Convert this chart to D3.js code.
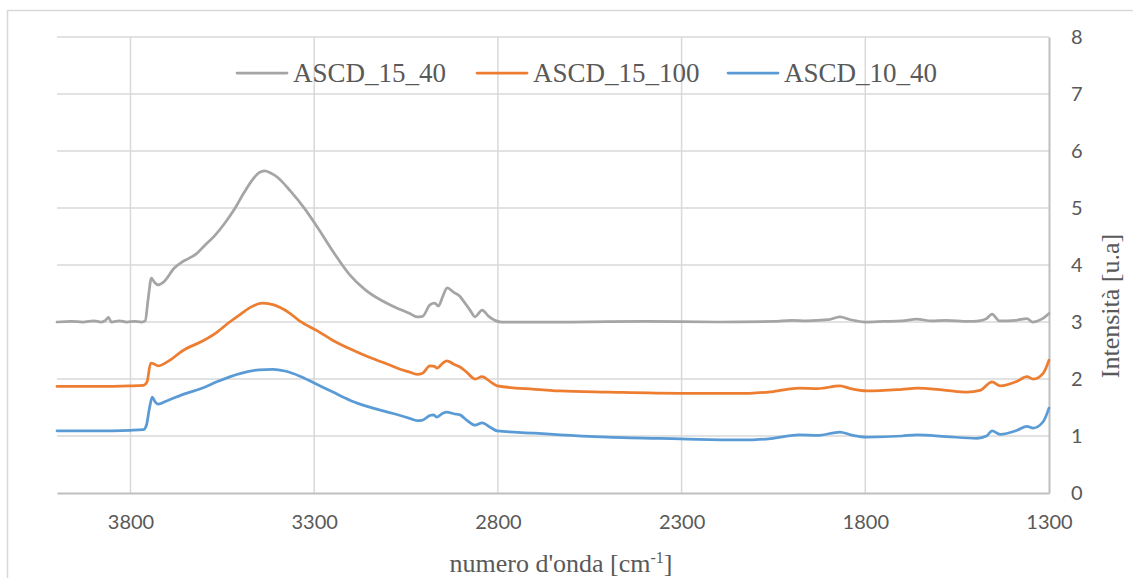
<!DOCTYPE html>
<html>
<head>
<meta charset="utf-8">
<script src="https://cdn.jsdelivr.net/npm/d3@7/dist/d3.min.js"></script>
<style>
  html, body { margin: 0; padding: 0; background: #fff; }
  svg { display: block; }
</style>
</head>
<body>
<svg id="chart" width="1133" height="578"></svg>
<script>
// Series names and colours
const seriesNames = ["ASCD_15_40", "ASCD_15_100", "ASCD_10_40"];
const seriesColors = ["#A5A5A5", "#ED7D31", "#5B9BD5"];

// Axis ticks
const xTicks = [3800, 3300, 2800, 2300, 1800, 1300];
const yTicks = [0, 1, 2, 3, 4, 5, 6, 7, 8];

// Spectra: [wavenumber cm^-1, intensity u.a.]
const ascd_15_40 = [
  [4000,3.0],[3960,3.01],[3930,3.0],[3900,3.02],[3880,3.0],[3868,3.03],[3860,3.08],[3852,3.0],[3830,3.02],[3810,3.0],
  [3790,3.01],[3770,3.0],[3760,3.02],[3752,3.4],[3743,3.77],[3735,3.7],[3725,3.65],[3710,3.7],[3680,3.95],
  [3660,4.05],[3640,4.12],[3620,4.2],[3600,4.33],[3570,4.52],[3545,4.72],[3515,5.0],[3490,5.28],[3465,5.52],
  [3450,5.62],[3435,5.65],[3420,5.62],[3400,5.54],[3365,5.3],[3325,4.98],[3285,4.6],[3245,4.2],[3205,3.84],
  [3160,3.56],[3120,3.39],[3080,3.26],[3040,3.15],[3020,3.09],[3005,3.1],[2985,3.3],[2972,3.33],[2962,3.28],
  [2950,3.45],[2938,3.6],[2920,3.52],[2905,3.46],[2895,3.38],[2875,3.2],[2862,3.09],[2850,3.17],[2843,3.21],
  [2825,3.1],[2805,3.02],[2790,3.0],[2600,3.0],[2400,3.01],[2200,3.0],[2050,3.01],[2000,3.03],[1960,3.02],
  [1900,3.04],[1869,3.09],[1840,3.04],[1800,3.0],[1750,3.01],[1700,3.02],[1660,3.05],[1620,3.02],[1580,3.03],
  [1520,3.01],[1490,3.02],[1470,3.06],[1455,3.14],[1435,3.02],[1390,3.03],[1360,3.06],[1345,3.0],[1320,3.05],
  [1300,3.15]
];
const ascd_15_100 = [
  [4000,1.87],[3900,1.87],[3800,1.88],[3765,1.89],[3755,1.95],[3745,2.28],[3738,2.27],[3725,2.23],
  [3700,2.3],[3657,2.5],[3600,2.68],[3565,2.82],[3530,3.0],[3500,3.14],[3470,3.27],[3440,3.33],[3410,3.3],
  [3370,3.17],[3340,3.02],[3290,2.84],[3250,2.68],[3200,2.52],[3150,2.38],[3100,2.26],[3066,2.17],[3040,2.12],
  [3020,2.08],[3005,2.1],[2985,2.23],[2972,2.22],[2966,2.19],[2950,2.28],[2939,2.32],[2920,2.26],[2903,2.21],
  [2885,2.12],[2862,2.0],[2843,2.04],[2820,1.95],[2802,1.88],[2700,1.82],[2631,1.79],[2500,1.77],[2304,1.75],
  [2114,1.75],[2050,1.78],[1980,1.84],[1930,1.83],[1869,1.88],[1840,1.83],[1795,1.79],[1700,1.82],[1659,1.84],
  [1580,1.8],[1523,1.77],[1488,1.8],[1455,1.95],[1433,1.88],[1387,1.96],[1360,2.04],[1343,2.0],[1316,2.1],
  [1300,2.33]
];
const ascd_10_40 = [
  [4000,1.09],[3900,1.09],[3800,1.1],[3765,1.11],[3757,1.18],[3748,1.5],[3741,1.68],[3733,1.6],[3725,1.56],
  [3700,1.62],[3657,1.73],[3600,1.85],[3565,1.95],[3500,2.1],[3450,2.16],[3412,2.17],[3380,2.14],[3339,2.05],
  [3300,1.93],[3249,1.77],[3200,1.62],[3156,1.52],[3100,1.42],[3066,1.36],[3040,1.31],[3020,1.27],[3005,1.28],
  [2985,1.36],[2975,1.37],[2966,1.33],[2950,1.4],[2939,1.42],[2920,1.39],[2903,1.37],[2885,1.28],[2862,1.19],
  [2843,1.23],[2820,1.15],[2802,1.09],[2700,1.05],[2631,1.02],[2500,0.98],[2304,0.95],[2150,0.93],[2114,0.93],
  [2050,0.96],[1980,1.02],[1930,1.01],[1869,1.07],[1840,1.02],[1795,0.98],[1700,1.0],[1659,1.02],[1580,0.99],
  [1496,0.96],[1470,1.0],[1455,1.09],[1433,1.03],[1387,1.1],[1360,1.17],[1343,1.14],[1316,1.25],[1300,1.49]
];
const seriesData = [ascd_15_40, ascd_15_100, ascd_10_40];

const svg = d3.select("#chart");
const plot = { left: 57, right: 1049, top: 37, bottom: 493 };

const x = d3.scaleLinear().domain([4000, 1300]).range([plot.left, plot.right]);
const y = d3.scaleLinear().domain([0, 8]).range([plot.bottom, plot.top]);

// Outer frame
svg.append("rect")
  .attr("x", 7.5).attr("y", 10.5)
  .attr("width", 1200).attr("height", 700)
  .attr("fill", "#fff").attr("stroke", "#D9D9D9").attr("stroke-width", 1.5);

// Horizontal gridlines
svg.append("g")
  .selectAll("line")
  .data(yTicks.filter(d => d > 0))
  .join("line")
  .attr("x1", plot.left).attr("x2", plot.right)
  .attr("y1", d => y(d)).attr("y2", d => y(d))
  .attr("stroke", "#D9D9D9").attr("stroke-width", 1.5);

// Vertical gridlines
svg.append("g")
  .selectAll("line")
  .data(xTicks.filter(d => d !== 1300))
  .join("line")
  .attr("x1", d => x(d)).attr("x2", d => x(d))
  .attr("y1", plot.top).attr("y2", plot.bottom)
  .attr("stroke", "#D9D9D9").attr("stroke-width", 1.5);

// Bottom axis
const xAxis = svg.append("g")
  .attr("transform", `translate(0,${plot.bottom})`)
  .call(d3.axisBottom(x).tickValues(xTicks).tickSize(0).tickPadding(22).tickFormat(d3.format("d")));
xAxis.select(".domain").attr("stroke", "#BFBFBF").attr("stroke-width", 2);
xAxis.selectAll("text")
  .attr("fill", "#595959").style("font-family", "Lato, 'Liberation Sans', sans-serif").style("font-size", "20px");

// Right axis
const yAxis = svg.append("g")
  .attr("transform", `translate(${plot.right},0)`)
  .call(d3.axisRight(y).tickValues(yTicks).tickSize(0).tickPadding(22).tickFormat(d3.format("d")));
yAxis.select(".domain").attr("stroke", "#BFBFBF").attr("stroke-width", 2);
yAxis.selectAll("text")
  .attr("fill", "#595959").style("font-family", "Lato, 'Liberation Sans', sans-serif").style("font-size", "20px");

// Spectra
const line = d3.line()
  .x(d => x(d[0]))
  .y(d => y(d[1]))
  .curve(d3.curveMonotoneX);

svg.append("g")
  .selectAll("path")
  .data(seriesData)
  .join("path")
  .attr("d", line)
  .attr("fill", "none")
  .attr("stroke", (d, i) => seriesColors[i])
  .attr("stroke-width", 2.75)
  .attr("stroke-linejoin", "round")
  .attr("stroke-linecap", "round");

// Legend
const legendX = [237, 477, 728];
const legend = svg.append("g")
  .selectAll("g")
  .data(seriesNames)
  .join("g")
  .attr("transform", (d, i) => `translate(${legendX[i]},73)`);
legend.append("line")
  .attr("x1", 0).attr("x2", 50).attr("y1", 0).attr("y2", 0)
  .attr("stroke", (d, i) => seriesColors[i]).attr("stroke-width", 2.75).attr("stroke-linecap", "round");
legend.append("text")
  .attr("x", 56).attr("y", 9)
  .attr("fill", "#595959")
  .style("font-family", "'Liberation Serif', 'Times New Roman', serif")
  .style("font-size", "27px")
  .text(d => d);

// Axis titles
const xTitle = svg.append("text")
  .attr("x", 561).attr("y", 572)
  .attr("text-anchor", "middle")
  .attr("fill", "#595959")
  .style("font-family", "'Liberation Serif', 'Times New Roman', serif")
  .style("font-size", "26px");
xTitle.append("tspan").text("numero d'onda [cm");
xTitle.append("tspan").attr("dy", -9).style("font-size", "16px").text("-1");
xTitle.append("tspan").attr("dy", 9).text("]");

svg.append("text")
  .attr("transform", "translate(1119,306) rotate(-90)")
  .attr("text-anchor", "middle")
  .attr("fill", "#595959")
  .style("font-family", "'Liberation Serif', 'Times New Roman', serif")
  .style("font-size", "26px")
  .text("Intensità [u.a]");
</script>
</body>
</html>
